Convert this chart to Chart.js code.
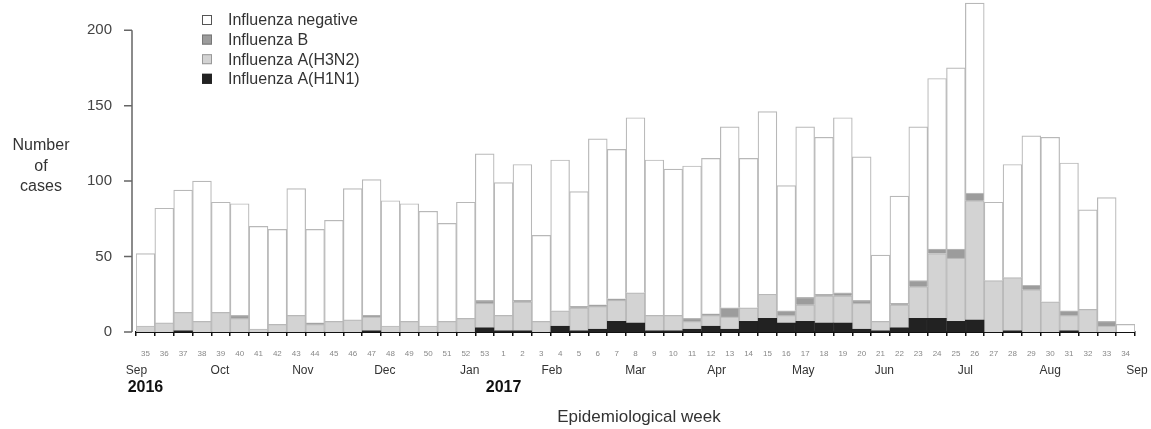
<!DOCTYPE html>
<html>
<head>
<meta charset="utf-8">
<script src="https://cdn.jsdelivr.net/npm/chart.js@4.4.1/dist/chart.umd.min.js"></script>
<style>
  html, body { margin: 0; padding: 0; background: #fff; }
  #wrap { width: 1151px; height: 429px; position: relative; }
</style>
</head>
<body>
<div id="wrap"><canvas id="fluChart"></canvas></div>
<script>
// epidemiological weeks, 35/2016 .. 34/2017
const weeks = ['35','36','37','38','39','40','41','42','43','44','45','46','47','48','49','50','51','52','53',
  '1','2','3','4','5','6','7','8','9','10','11','12','13','14','15','16','17','18','19','20',
  '21','22','23','24','25','26','27','28','29','30','31','32','33','34'];

const h1n1 = [0,0,1,0,0,0,0,0,0,0,0,0,1,0,0,0,0,0,3,
  1,1,0,4,1,2,7,6,1,1,2,4,2,7,9,6,7,6,6,2,
  1,3,9,9,7,8,0,1,0,0,1,0,0,0];
const h3n2 = [4,6,12,7,13,9,2,5,11,5,7,8,9,4,7,4,7,9,16,
  10,19,7,10,15,15,14,20,10,10,5,7,8,9,16,5,11,18,18,17,
  6,15,21,43,42,79,34,35,28,20,10,15,4,0];
const fluB = [0,0,0,0,0,2,0,0,0,1,0,0,1,0,0,0,0,0,2,
  0,1,0,0,1,1,1,0,0,0,2,1,6,0,0,3,5,1,2,2,
  0,1,4,3,6,5,0,0,3,0,3,0,3,0];
const negative = [48,76,81,93,73,74,68,63,84,62,67,87,90,83,78,76,65,77,97,
  88,90,57,100,76,110,99,116,103,97,101,103,120,99,121,83,113,104,116,95,
  44,71,102,113,120,126,52,75,99,109,98,66,82,5];

const yTicks = [0, 50, 100, 150, 200];
const months = ['Sep','Oct','Nov','Dec','Jan','Feb','Mar','Apr','May','Jun','Jul','Aug','Sep'];
const monthPos = [-0.48, 3.95, 8.35, 12.7, 17.2, 21.56, 26.0, 30.3, 34.9, 39.2, 43.5, 48.0, 52.6];
const years = ['2016', '2017'];
const yearPos = [0, 19];

const font = '"Liberation Sans", Arial, sans-serif';

const extras = {
  id: 'extras',
  afterDraw(chart) {
    const ctx = chart.ctx;
    const x = chart.scales.x;
    const y = chart.scales.y;
    const area = chart.chartArea;
    ctx.save();

    // y axis line 0..200 with ticks
    const ax = area.left - 4;
    ctx.strokeStyle = '#666';
    ctx.lineWidth = 1.5;
    ctx.beginPath();
    ctx.moveTo(ax, y.getPixelForValue(200));
    ctx.lineTo(ax, y.getPixelForValue(0));
    yTicks.forEach(v => {
      const py = y.getPixelForValue(v);
      ctx.moveTo(ax - 8, py);
      ctx.lineTo(ax, py);
    });
    ctx.stroke();

    // y title
    ctx.fillStyle = '#333';
    ctx.font = '16px ' + font;
    ctx.textAlign = 'center';
    ctx.textBaseline = 'middle';
    ['Number', 'of', 'cases'].forEach((t, i) => ctx.fillText(t, 41, 146 + i * 20.5));

    // month and year labels
    ctx.font = '12px ' + font;
    months.forEach((m, i) => ctx.fillText(m, x.getPixelForValue(monthPos[i]), 371));
    ctx.fillStyle = '#111';
    ctx.font = 'bold 16px ' + font;
    years.forEach((t, i) => ctx.fillText(t, x.getPixelForValue(yearPos[i]), 388));

    ctx.fillStyle = '#333';
    ctx.font = '17px ' + font;
    ctx.fillText('Epidemiological week', 639, 417);

    // legend (top of stack first)
    ctx.font = '16px ' + font;
    ctx.textAlign = 'left';
    const order = chart.data.datasets.slice().reverse();
    order.forEach((ds, i) => {
      const cy = 20 + i * 19.6;
      ctx.fillStyle = ds.backgroundColor;
      ctx.fillRect(202, cy - 5, 10, 10);
      ctx.strokeStyle = ds.legendBorder;
      ctx.lineWidth = 1;
      ctx.strokeRect(202.5, cy - 4.5, 9, 9);
      ctx.fillStyle = '#333';
      ctx.fillText(ds.label, 228, cy + 1);
    });
    ctx.restore();
  }
};

const ctx = document.getElementById('fluChart').getContext('2d');
new Chart(ctx, {
  type: 'bar',
  data: {
    labels: weeks,
    datasets: [
      { label: 'Influenza A(H1N1)', data: h1n1, backgroundColor: '#222', borderColor: '#222', legendBorder: '#222' },
      { label: 'Influenza A(H3N2)', data: h3n2, backgroundColor: '#d3d3d3', borderColor: '#b8b8b8', legendBorder: '#999' },
      { label: 'Influenza B', data: fluB, backgroundColor: '#9c9c9c', borderColor: '#b8b8b8', legendBorder: '#777' },
      { label: 'Influenza negative', data: negative, backgroundColor: '#ffffff', borderColor: '#b8b8b8', legendBorder: '#555' }
    ]
  },
  options: {
    responsive: true,
    maintainAspectRatio: false,
    animation: false,
    datasets: {
      bar: { barPercentage: 1, categoryPercentage: 1, borderWidth: 1.2 }
    },
    layout: { padding: { top: 0, right: 16, left: 0, bottom: 0 } },
    plugins: { legend: { display: false }, tooltip: { enabled: false } },
    scales: {
      x: {
        stacked: true,
        afterFit: s => { s.height = 97; },
        border: { display: true, color: '#111', width: 2 },
        grid: { display: true, drawOnChartArea: false, drawTicks: true, tickLength: 4, color: '#111', lineWidth: 1.5 },
        ticks: { autoSkip: false, maxRotation: 0, padding: 13, color: '#888', font: { size: 8, family: font } }
      },
      y: {
        stacked: true,
        min: 0,
        max: 220,
        afterFit: s => { s.width = 136; s.paddingTop = 0; s.paddingBottom = 0; },
        afterBuildTicks: s => { s.ticks = yTicks.map(v => ({ value: v })); },
        border: { display: false },
        grid: { display: false },
        ticks: { padding: 16, color: '#444', font: { size: 15, family: font } }
      }
    }
  },
  plugins: [extras]
});
</script>
</body>
</html>
